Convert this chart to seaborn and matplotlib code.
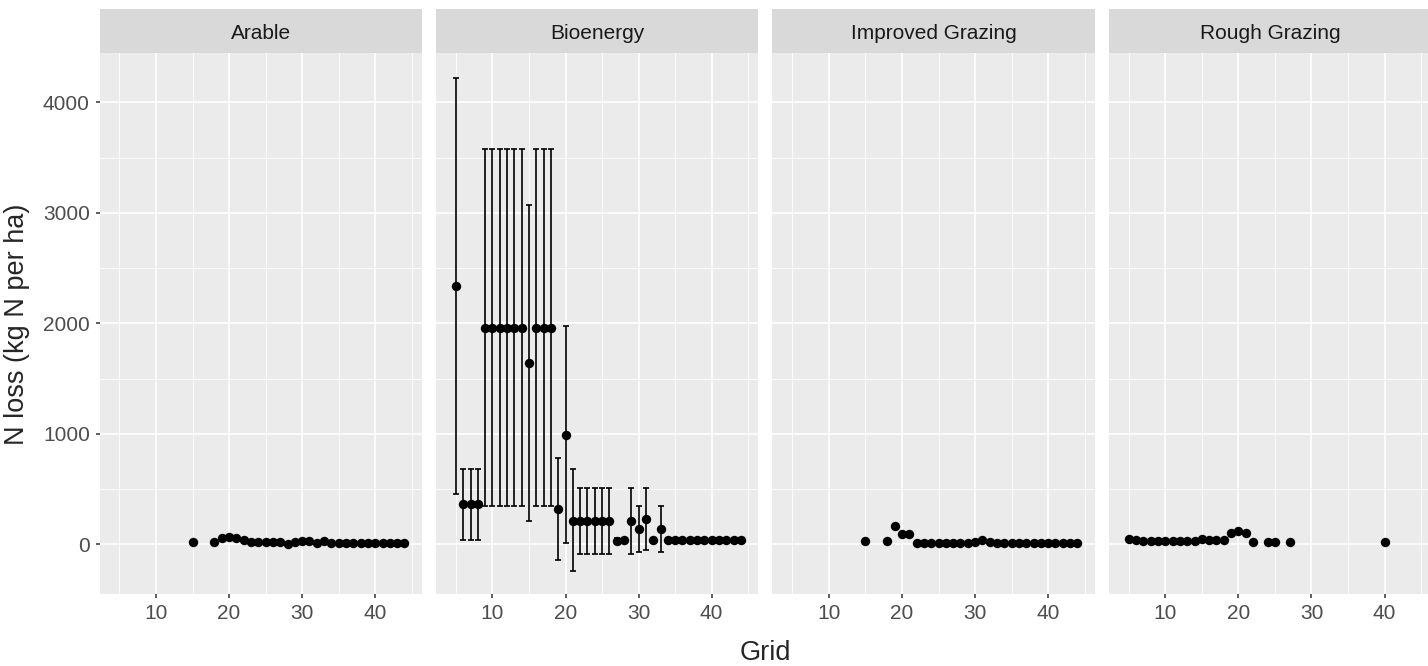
import matplotlib
matplotlib.use('Agg')
import matplotlib.pyplot as plt
import pandas as pd
import seaborn as sns

# Data (N loss, kg N per ha, by grid square)
arable_grid = [15, 18, 19, 20, 21, 22, 23, 24, 25, 26, 27, 28, 29, 30, 31, 32, 33,
               34, 35, 36, 37, 38, 39, 40, 41, 42, 43, 44]
arable_loss = [19, 22, 55, 68, 60, 40, 25, 22, 20, 22, 20, 8, 25, 35, 28, 10, 32,
               12, 10, 10, 10, 10, 10, 10, 10, 10, 10, 10]

bio_grid = list(range(5, 45))
bio_loss = [2340, 367, 367, 367, 1958, 1958, 1958, 1958, 1958, 1958, 1645,
            1958, 1958, 1958, 320, 993, 210, 210, 210, 210, 210, 210, 35, 40,
            210, 141, 229, 38, 141, 38, 38, 38, 38, 38, 38, 38, 38, 38, 38, 38]
bio_lower = [455, 38, 38, 38, 351, 351, 351, 351, 351, 351, 210,
             351, 351, 351, -140, 12, -240, -87, -87, -87, -87, -87, 15, 20,
             -87, -72, -47, 15, -72, 15, 15, 15, 15, 15, 15, 15, 15, 15, 15, 15]
bio_upper = [4222, 680, 680, 680, 3577, 3577, 3577, 3577, 3577, 3577, 3070,
             3577, 3577, 3577, 783, 1974, 680, 508, 508, 508, 508, 508, 55, 60,
             508, 351, 508, 60, 345, 60, 60, 60, 60, 60, 60, 60, 60, 60, 60, 60]

improved_grid = [15, 18, 19, 20, 21] + list(range(22, 45))
improved_loss = [31, 31, 164, 93, 93] + [12] * 8 + [18, 37, 20] + [12] * 12

rough_grid = list(range(5, 23)) + [24, 25, 27, 40]
rough_loss = [52, 36, 34, 34, 34, 34, 34, 34, 34, 34, 50, 36, 36, 40, 100, 120,
              100, 18, 18, 18, 18, 18]

panels = ['Arable', 'Bioenergy', 'Improved Grazing', 'Rough Grazing']
grids = [arable_grid, bio_grid, improved_grid, rough_grid]
losses = [arable_loss, bio_loss, improved_loss, rough_loss]

df = pd.concat([pd.DataFrame({'landuse': p, 'Grid': g, 'loss': l})
                for p, g, l in zip(panels, grids, losses)])
bio_err = pd.DataFrame({'Grid': bio_grid, 'loss': bio_loss,
                        'lo': bio_lower, 'hi': bio_upper})

sns.set_style('darkgrid', {'axes.facecolor': '#EBEBEB', 'grid.color': 'white'})
plt.rcParams['font.family'] = ['Liberation Sans', 'DejaVu Sans']

W, H = 1428, 666
fig = plt.figure(figsize=(W / 100, H / 100), dpi=100)

top, bottom = 53.3, 594.3
pw, pitch, left0 = 322.5, 336.45, 99.5

for i, name in enumerate(panels):
    left = left0 + i * pitch
    ax = fig.add_axes([left / W, (H - bottom) / H, pw / W, (bottom - top) / H])
    sub = df[df['landuse'] == name]
    if name == 'Bioenergy':
        ax.errorbar(bio_err['Grid'], bio_err['loss'],
                    yerr=[bio_err['loss'] - bio_err['lo'], bio_err['hi'] - bio_err['loss']],
                    fmt='none', ecolor='black', elinewidth=1.2, capsize=2.5,
                    capthick=1.2, zorder=2)
    sns.scatterplot(data=sub, x='Grid', y='loss', ax=ax, color='black', s=46,
                    linewidth=0, zorder=3)
    ax.set_xlim(2.27, 46.4)
    ax.set_ylim(-451, 4445)
    ax.set_xticks([10, 20, 30, 40])
    ax.set_xticks([5, 15, 25, 35, 45], minor=True)
    ax.set_yticks([0, 1000, 2000, 3000, 4000])
    ax.set_yticks([500, 1500, 2500, 3500], minor=True)
    ax.grid(which='major', color='white', linewidth=1.2)
    ax.grid(which='minor', color='white', linewidth=0.6)
    ax.tick_params(which='major', length=3, width=1.1, color='#333333',
                   labelcolor='#4D4D4D', labelsize=15, pad=4,
                   bottom=True, left=(i == 0))
    ax.tick_params(which='minor', length=0)
    if i > 0:
        ax.set_yticklabels([])
    ax.set_xlabel('')
    ax.set_ylabel('')
    for s in ax.spines.values():
        s.set_visible(False)

    strip = fig.add_axes([left / W, (H - top) / H, pw / W, 44 / H])
    strip.set_facecolor('#D9D9D9')
    strip.set_xticks([])
    strip.set_yticks([])
    strip.grid(False)
    for s in strip.spines.values():
        s.set_visible(False)
    strip.text(0.5, 0.44, name, ha='center', va='center', fontsize=15,
               color='#1A1A1A', transform=strip.transAxes)

fig.text(765 / W, 1 - 653 / H, 'Grid', ha='center', va='center', fontsize=19.5)
fig.text(17 / W, 1 - 324 / H, 'N loss (kg N per ha)', ha='center', va='center',
         rotation=90, fontsize=19.5)

fig.savefig('out.png', dpi=100)
